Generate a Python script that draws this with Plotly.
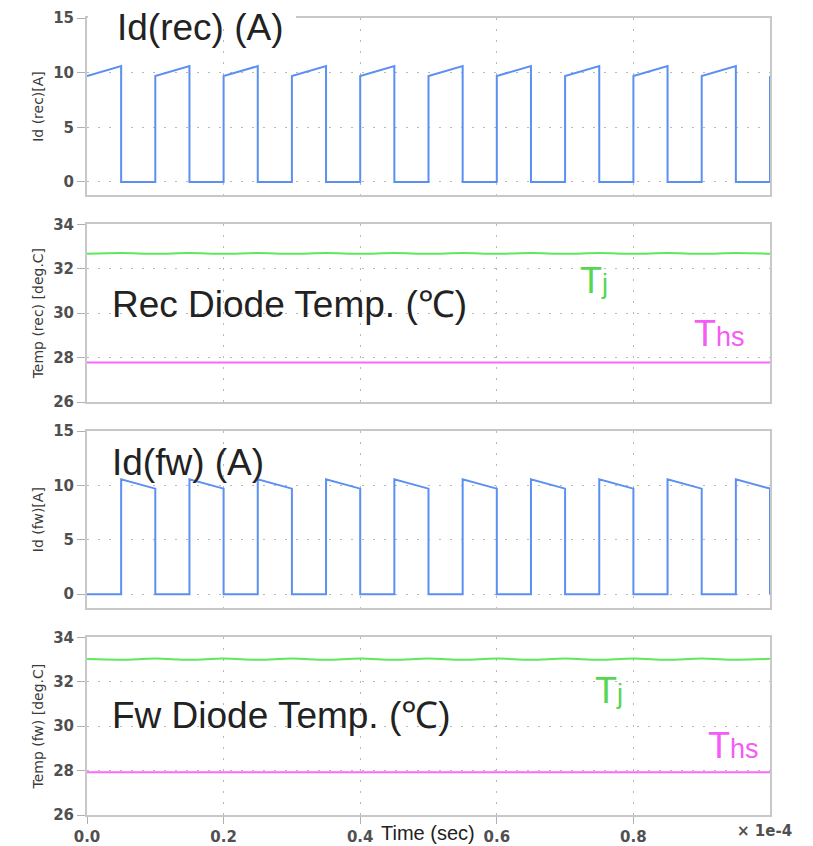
import plotly.graph_objects as go

# ---------------- data (time in units of 1e-4 s) ----------------
t_sw = [0.0, 0.05, 0.05, 0.1, 0.1, 0.15, 0.15, 0.2, 0.2, 0.25, 0.25, 0.3, 0.3,
        0.35, 0.35, 0.4, 0.4, 0.45, 0.45, 0.5, 0.5, 0.55, 0.55, 0.6, 0.6, 0.65,
        0.65, 0.7, 0.7, 0.75, 0.75, 0.8, 0.8, 0.85, 0.85, 0.9, 0.9, 0.95, 0.95,
        1.0, 1.0]
id_rec = [9.7, 10.6, 0, 0, 9.7, 10.6, 0, 0, 9.7, 10.6, 0, 0, 9.7, 10.6, 0, 0,
          9.7, 10.6, 0, 0, 9.7, 10.6, 0, 0, 9.7, 10.6, 0, 0, 9.7, 10.6, 0, 0,
          9.7, 10.6, 0, 0, 9.7, 10.6, 0, 0, 9.7]
id_fw = [0, 0, 10.55, 9.7, 0, 0, 10.55, 9.7, 0, 0, 10.55, 9.7, 0, 0, 10.55, 9.7,
         0, 0, 10.55, 9.7, 0, 0, 10.55, 9.7, 0, 0, 10.55, 9.7, 0, 0, 10.55, 9.7,
         0, 0, 10.55, 9.7, 0, 0, 10.55, 9.7, 0]

t_half = [0.0, 0.05, 0.1, 0.15, 0.2, 0.25, 0.3, 0.35, 0.4, 0.45, 0.5, 0.55,
          0.6, 0.65, 0.7, 0.75, 0.8, 0.85, 0.9, 0.95, 1.0]
tj_rec = [32.67, 32.71, 32.67, 32.71, 32.67, 32.71, 32.67, 32.71, 32.67, 32.71,
          32.67, 32.71, 32.67, 32.71, 32.67, 32.71, 32.67, 32.71, 32.67, 32.71,
          32.67]
ths_rec = [27.78, 27.78, 27.78, 27.78, 27.78, 27.78, 27.78, 27.78, 27.78, 27.78,
           27.78, 27.78, 27.78, 27.78, 27.78, 27.78, 27.78, 27.78, 27.78, 27.78,
           27.78]
tj_fw = [33.02, 32.99, 33.04, 32.99, 33.04, 32.99, 33.04, 32.99, 33.04, 32.99,
         33.04, 32.99, 33.04, 32.99, 33.04, 32.99, 33.04, 32.99, 33.04, 32.99,
         33.03]
ths_fw = [27.92, 27.92, 27.92, 27.92, 27.92, 27.92, 27.92, 27.92, 27.92, 27.92,
          27.92, 27.92, 27.92, 27.92, 27.92, 27.92, 27.92, 27.92, 27.92, 27.92,
          27.92]

x_ticks = [0.0, 0.2, 0.4, 0.6, 0.8]
x_tick_text = ["0.0", "0.2", "0.4", "0.6", "0.8"]
y_titles = ["Id (rec)[A]", "Temp (rec) [deg.C]", "Id (fw)[A]", "Temp (fw) [deg.C]"]
y_ticks_cur = [0, 5, 10, 15]
y_ticks_tmp = [26, 28, 30, 32, 34]

BLUE = "#5b8ff2"
GREEN = "#5ee85e"
MAGENTA = "#ff66ff"
GREEN_TXT = "#55d655"
MAG_TXT = "#f55cf5"

# ---------------- geometry ----------------
W, H = 813, 846
L, R, T, B = 87, 770, 18, 815
PW, PH = R - L, B - T


def px(x):
    return (x - L) / PW


def py(y):
    return (B - y) / PH


domains = [
    [py(195), 1.0],
    [py(402), py(224.3)],
    [py(608.3), py(431)],
    [0.0, py(637.3)],
]
ranges = [[-1.19, 15], [26, 34], [-1.3, 15], [26, 34]]

fig = go.Figure()

series = [
    (t_sw, id_rec, BLUE, 1, "linear"),
    (t_half, tj_rec, GREEN, 2, "spline"),
    (t_half, ths_rec, MAGENTA, 2, "linear"),
    (t_sw, id_fw, BLUE, 3, "linear"),
    (t_half, tj_fw, GREEN, 4, "spline"),
    (t_half, ths_fw, MAGENTA, 4, "linear"),
]
for xs, ys, col, k, shape in series:
    fig.add_trace(go.Scatter(
        x=xs, y=ys, mode="lines", line=dict(color=col, width=2, shape=shape),
        xaxis="x" if k == 1 else f"x{k}", yaxis="y" if k == 1 else f"y{k}",
        showlegend=False, hoverinfo="skip"))

tick_font = dict(family="DejaVu Sans", size=15, color="#505050", weight="bold")
grid = dict(showgrid=True, gridcolor="#b8b8b8", gridwidth=1.3, griddash="2px,9px",
            showline=True, linecolor="#c8c8c8", linewidth=2, mirror=True,
            zeroline=False, automargin=False)

layout = dict(
    width=W, height=H, plot_bgcolor="white", paper_bgcolor="white",
    margin=dict(l=L, r=W - R, t=T, b=H - B, pad=0, autoexpand=False),
    showlegend=False,
)
for k in range(1, 5):
    xa = "xaxis" if k == 1 else f"xaxis{k}"
    ya = "yaxis" if k == 1 else f"yaxis{k}"
    yname = "y" if k == 1 else f"y{k}"
    layout[xa] = dict(
        range=[0, 1.0], domain=[0, 1], anchor=yname,
        tickvals=x_ticks, ticktext=x_tick_text,
        showticklabels=(k == 4), ticks="outside" if k == 4 else "",
        ticklen=7, tickcolor="#b0b0b0", tickfont=tick_font,
        **grid)
    if k > 1:
        layout[xa]["matches"] = "x"
    layout[ya] = dict(
        range=ranges[k - 1], domain=domains[k - 1], anchor="x" if k == 1 else f"x{k}",
        tickvals=y_ticks_cur if k in (1, 3) else y_ticks_tmp,
        ticks="outside", ticklen=8, tickcolor="#b0b0b0", tickfont=tick_font,
        title=dict(text=y_titles[k - 1], standoff=6,
                   font=dict(family="DejaVu Sans", size=14, color="#3a3a3a")),
        **grid)
fig.update_layout(**layout)

# white patch covering the top frame behind the first heading
fig.add_shape(type="rect", xref="paper", yref="paper",
              x0=px(88), x1=px(296), y0=py(22), y1=py(14),
              fillcolor="white", line=dict(width=0), layer="above")

big = dict(family="Liberation Sans, Arial", size=37, color="#222222")


def ann(text, x, y, font, xanchor="left"):
    fig.add_annotation(text=text, x=px(x), y=py(y), xref="paper", yref="paper",
                       xanchor=xanchor, yanchor="middle", showarrow=False,
                       font=font)


ann("Id(rec) (A)", 115, 27, big)
ann("Rec Diode Temp. (℃)", 110, 305, big)
ann("Id(fw) (A)", 110, 462, big)
ann("Fw Diode Temp. (℃)", 110, 715, big)

ann("T<span style='font-size:27px'>j</span>", 578, 280,
    dict(family="Liberation Sans, Arial", size=36, color=GREEN_TXT))
ann("T<span style='font-size:27px'>hs</span>", 692, 333,
    dict(family="Liberation Sans, Arial", size=36, color=MAG_TXT))
ann("T<span style='font-size:27px'>j</span>", 593, 690,
    dict(family="Liberation Sans, Arial", size=36, color=GREEN_TXT))
ann("T<span style='font-size:27px'>hs</span>", 706, 745,
    dict(family="Liberation Sans, Arial", size=36, color=MAG_TXT))

ann("Time (sec)", 428, 833,
    dict(family="Liberation Sans, Arial", size=20, color="#222222"), "center")
ann("× 1e-4", 764, 831, tick_font, "center")

fig.write_html("out.html",
               config={"displayModeBar": False},
               post_script="document.body.style.margin='0';"
                           "document.body.style.overflow='hidden';")
